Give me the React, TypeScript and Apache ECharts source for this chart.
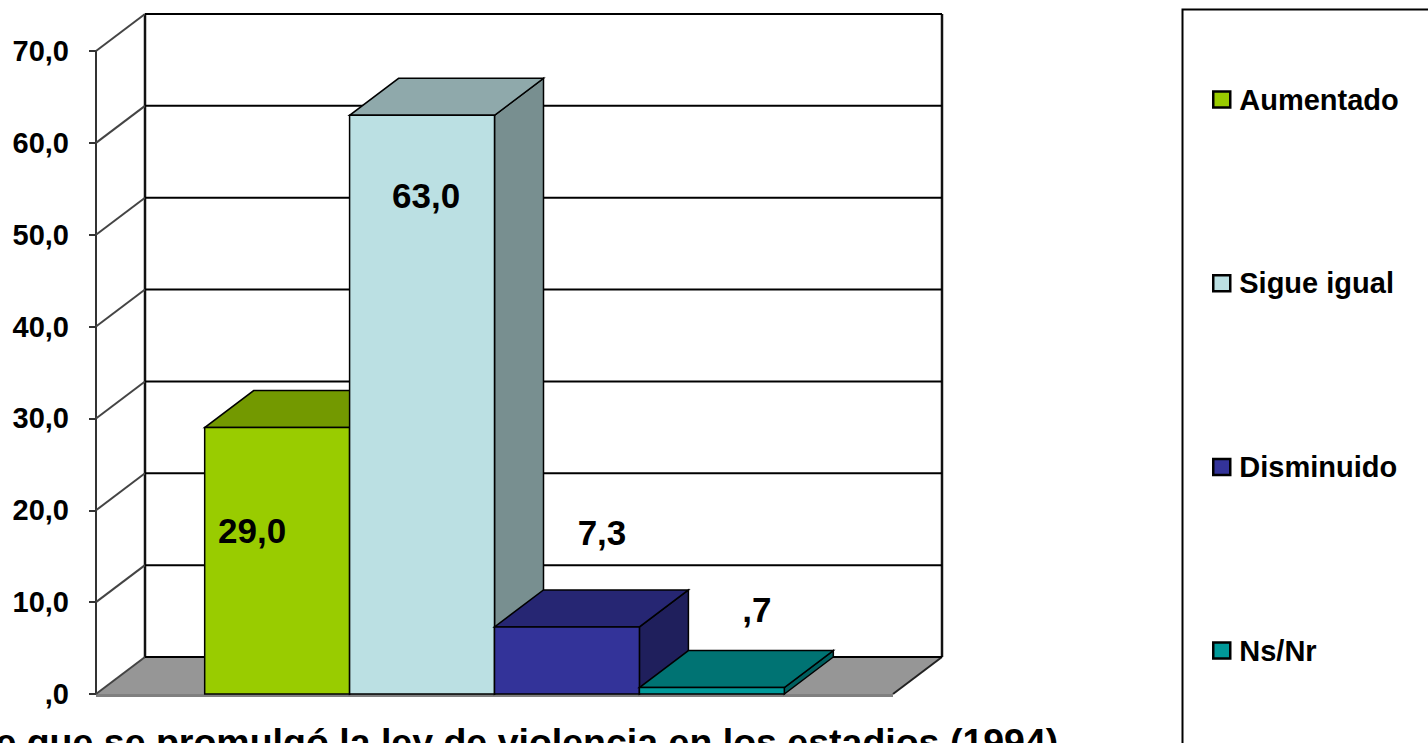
import React, { useEffect, useRef } from "react";
import * as echarts from "echarts";

const categories = ["Aumentado", "Sigue igual", "Disminuido", "Ns/Nr"];
const values = [29.0, 63.0, 7.3, 0.7];
const yTicks = [0, 10, 20, 30, 40, 50, 60, 70];
const axisTitle = "Desde que se promulgó la ley de violencia en los estadios (1994)";

const frontColors = ["#99CC00", "#BBE0E3", "#333399", "#009999"];
const topColors = ["#739900", "#8FA9AB", "#262673", "#007373"];
const sideColors = ["#5C7A00", "#788F90", "#1F1F5C", "#005F5F"];
const labelOffsets = [
  [-25, 103],
  [4, 80],
  [35, -94],
  [45, -78],
];

const DX = 49;
const DY = -37;
const GAP = 0.75;
const X_MAX = categories.length + 2 * GAP;
const FONT = "'Liberation Sans', Arial, sans-serif";

function fmt(v: number): string {
  const s = Number(v).toFixed(1).replace(".", ",");
  return s.startsWith("0") ? s.slice(1) : s;
}

export default function App() {
  const ref = useRef<HTMLDivElement>(null);

  useEffect(() => {
    if (!ref.current) return;
    const chart = echarts.init(ref.current, undefined, { renderer: "svg" });
    const yMin = yTicks[0];
    const yMax = yTicks[yTicks.length - 1];

    const frameSeries: any = {
      type: "custom",
      name: "frame",
      clip: false,
      silent: true,
      z: 1,
      data: [[0, yMin, yMax]],
      encode: { x: 0, y: [1, 2] },
      renderItem: (_p: any, api: any) => {
        const lo = api.value(1);
        const hi = api.value(2);
        const [xl, yb] = api.coord([0, lo]);
        const [xr] = api.coord([X_MAX, lo]);
        const [, yt] = api.coord([0, hi]);
        return {
          type: "group",
          children: [
            {
              type: "polygon",
              shape: { points: [[xl, yb], [xr, yb], [xr + DX, yb + DY], [xl + DX, yb + DY]] },
              style: { fill: "#969696" },
            },
            { type: "line", shape: { x1: xl, y1: yb + 1.5, x2: xr, y2: yb + 1.5 }, style: { stroke: "#808080", lineWidth: 3 } },
            { type: "line", shape: { x1: xr, y1: yb, x2: xr + DX, y2: yb + DY }, style: { stroke: "#222", lineWidth: 2 } },
            { type: "line", shape: { x1: xl + DX, y1: yt + DY, x2: xl + DX, y2: yb + DY }, style: { stroke: "#111", lineWidth: 2.5 } },
            { type: "line", shape: { x1: xr + DX, y1: yt + DY, x2: xr + DX, y2: yb + DY }, style: { stroke: "#111", lineWidth: 2.5 } },
          ],
        };
      },
    };

    const wallSeries: any = {
      type: "custom",
      name: "walls",
      clip: false,
      silent: true,
      z: 2,
      data: yTicks.map((v) => [0, v]),
      renderItem: (_p: any, api: any) => {
        const v = api.value(1);
        const [xl, y] = api.coord([0, v]);
        const [xr] = api.coord([X_MAX, v]);
        return {
          type: "group",
          children: [
            { type: "line", shape: { x1: xl, y1: y, x2: xl + DX, y2: y + DY }, style: { stroke: "#444", lineWidth: 2 } },
            { type: "line", shape: { x1: xl + DX, y1: y + DY, x2: xr + DX, y2: y + DY }, style: { stroke: "#000", lineWidth: 2 } },
          ],
        };
      },
    };

    const barSeries: any[] = categories.map((name, i) => ({
      type: "custom",
      name,
      clip: false,
      z: 3 + i,
      itemStyle: { color: frontColors[i] },
      data: [[i, values[i]]],
      renderItem: (_p: any, api: any) => {
        const idx = api.value(0);
        const v = api.value(1);
        const [x0, yb] = api.coord([GAP + idx, 0]);
        const [x1, yt] = api.coord([GAP + idx + 1, v]);
        const st = { stroke: "#000", lineWidth: 1.5 };
        return {
          type: "group",
          children: [
            {
              type: "polygon",
              shape: { points: [[x1, yt], [x1 + DX, yt + DY], [x1 + DX, yb + DY], [x1, yb]] },
              style: { fill: sideColors[i], ...st },
            },
            {
              type: "polygon",
              shape: { points: [[x0, yt], [x1, yt], [x1 + DX, yt + DY], [x0 + DX, yt + DY]] },
              style: { fill: topColors[i], ...st },
            },
            {
              type: "rect",
              shape: { x: x0, y: yt, width: x1 - x0, height: yb - yt },
              style: { fill: frontColors[i], ...st },
            },
            {
              type: "text",
              x: (x0 + x1) / 2 + labelOffsets[i][0],
              y: yt + labelOffsets[i][1],
              style: {
                text: fmt(v),
                fill: "#000",
                fontSize: 35,
                fontWeight: "bold",
                fontFamily: FONT,
                align: "center",
                verticalAlign: "middle",
              },
            },
          ],
        };
      },
    }));

    chart.setOption({
      animation: false,
      backgroundColor: "#ffffff",
      grid: { left: 96, top: 51, width: 797, height: 643, outerBoundsMode: "none" },
      xAxis: { type: "value", min: 0, max: X_MAX, show: false },
      yAxis: {
        type: "value",
        min: yMin,
        max: yMax,
        interval: 10,
        axisLine: { show: true, lineStyle: { color: "#333", width: 2 } },
        axisTick: { show: true, length: 7, lineStyle: { color: "#333", width: 2 } },
        axisLabel: {
          formatter: (v: number) => fmt(v),
          fontSize: 29,
          fontWeight: "bold",
          fontFamily: FONT,
          color: "#000",
          margin: 27,
        },
        splitLine: { show: false },
      },
      legend: {
        orient: "vertical",
        left: 1212,
        top: 85,
        padding: 0,
        itemWidth: 17,
        itemHeight: 16,
        itemGap: 154.7,
        icon: "rect",
        selectedMode: false,
        data: categories,
        itemStyle: { borderColor: "#000", borderWidth: 2.5 },
        textStyle: { fontSize: 29, fontWeight: "bold", fontFamily: FONT, color: "#000", padding: [0, 0, 0, 4] },
      },
      graphic: [
        {
          type: "rect",
          left: 1180,
          top: 7,
          shape: { width: 300, height: 800 },
          style: { fill: "none", stroke: "#000", lineWidth: 2 },
          silent: true,
        },
        {
          type: "text",
          x: 481,
          y: 742,
          style: {
            text: axisTitle,
            fill: "#000",
            fontSize: 37.5,
            fontWeight: "bold",
            fontFamily: FONT,
            align: "center",
            verticalAlign: "middle",
          },
          silent: true,
        },
      ],
      series: [frameSeries, wallSeries, ...barSeries],
    });

    return () => chart.dispose();
  }, []);

  return (
    <div
      ref={ref}
      style={{ position: "fixed", left: 0, top: 0, width: 1428, height: 743 }}
    />
  );
}
